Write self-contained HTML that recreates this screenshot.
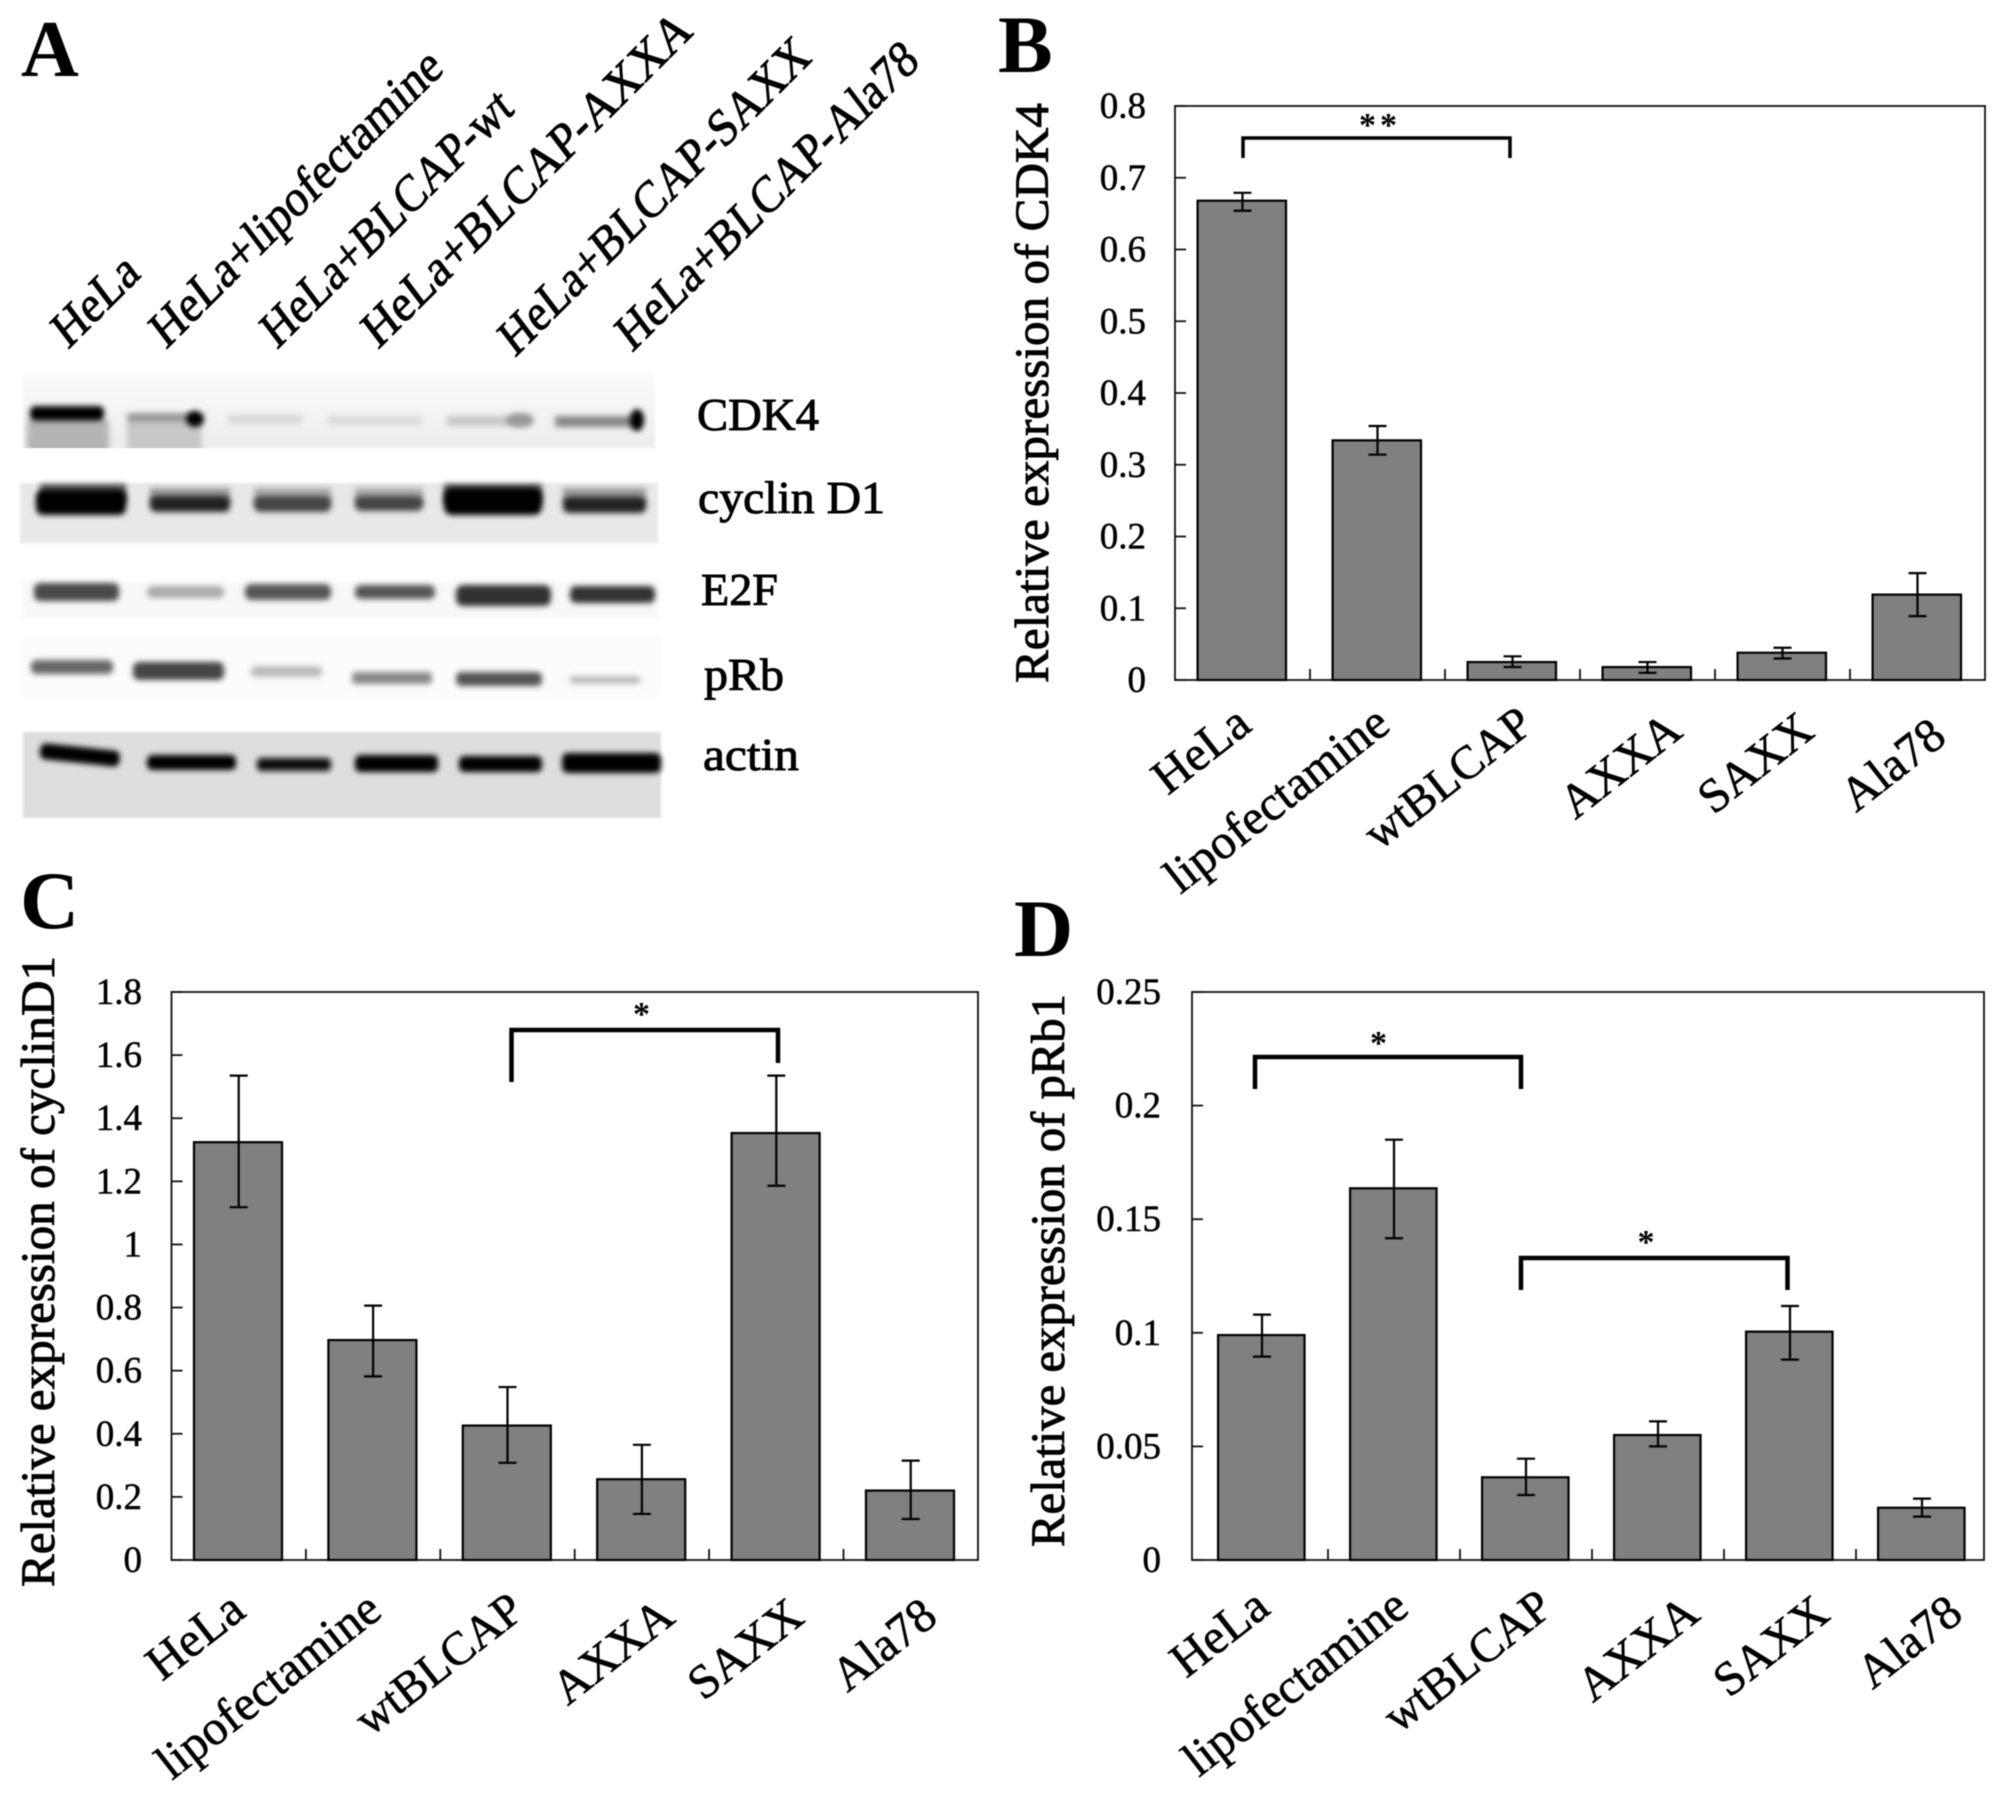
<!DOCTYPE html>
<html>
<head>
<meta charset="utf-8">
<style>
html,body{margin:0;padding:0;background:#fff;width:2008px;height:1798px;overflow:hidden}
svg{display:block;filter:blur(.5px)}
text{font-family:"Liberation Serif",serif;fill:#000}
</style>
</head>
<body>
<svg id="fig" width="2008" height="1798" viewBox="0 0 2008 1798" xmlns="http://www.w3.org/2000/svg">
<defs>
<filter id="b2" x="-30%" y="-150%" width="160%" height="400%"><feGaussianBlur stdDeviation="3"/></filter>
<filter id="b4" x="-30%" y="-150%" width="160%" height="400%"><feGaussianBlur stdDeviation="5"/></filter>
<filter id="b1" x="-5%" y="-5%" width="110%" height="110%"><feGaussianBlur stdDeviation="1"/></filter>
<linearGradient id="cdkbg" x1="0" y1="0" x2="0" y2="1"><stop offset="0" stop-color="#fbfbfb"/><stop offset="1" stop-color="#ededed"/></linearGradient>
<clipPath id="cdkclip"><rect x="23" y="372" width="632" height="76"/></clipPath>
</defs>
<rect width="2008" height="1798" fill="#fff"/>

<g>
<text x="21" y="76" font-size="80" font-weight="700">A</text>
<g font-size="46" stroke="#000" stroke-width=".8">
<text transform="translate(68,350) scale(1,1.15) rotate(-41)" textLength="98" lengthAdjust="spacingAndGlyphs">HeLa</text>
<text transform="translate(166,350) scale(1,1.15) rotate(-41)" textLength="370" lengthAdjust="spacingAndGlyphs">HeLa+lipofectamine</text>
<text transform="translate(277,350) scale(1,1.15) rotate(-41)" textLength="316" lengthAdjust="spacingAndGlyphs">HeLa+BLCAP-wt</text>
<text transform="translate(378,350) scale(1,1.15) rotate(-41)" textLength="419" lengthAdjust="spacingAndGlyphs">HeLa+BLCAP-AXXA</text>
<text transform="translate(515,358) scale(1,1.15) rotate(-41)" textLength="395" lengthAdjust="spacingAndGlyphs">HeLa+BLCAP-SAXX</text>
<text transform="translate(632,353) scale(1,1.15) rotate(-41)" textLength="383" lengthAdjust="spacingAndGlyphs">HeLa+BLCAP-Ala78</text>
</g>

<g>
<rect x="23" y="372" width="632" height="76" fill="url(#cdkbg)" filter="url(#b1)"/>
<g clip-path="url(#cdkclip)">
<rect x="27" y="420" width="82" height="36" fill="#b4b4b4" filter="url(#b2)"/>
<rect x="127" y="422" width="75" height="34" fill="#c8c8c8" filter="url(#b2)"/>
</g>
<rect x="30" y="406" width="74" height="15" rx="5" fill="#000" filter="url(#b2)"/>
<rect x="127" y="413" width="72" height="10" rx="3" fill="#999" filter="url(#b2)"/>
<ellipse cx="195" cy="419" rx="9" ry="8" fill="#000" filter="url(#b2)"/>
<rect x="228" y="415" width="74" height="9" fill="#d8d8d8" filter="url(#b2)"/>
<rect x="328" y="416" width="94" height="9" fill="#dadada" filter="url(#b2)"/>
<rect x="447" y="416" width="83" height="10" fill="#c8c8c8" filter="url(#b2)"/>
<ellipse cx="520" cy="420" rx="14" ry="7" fill="#999" filter="url(#b2)"/>
<rect x="555" y="416" width="85" height="11" fill="#888" filter="url(#b2)"/>
<ellipse cx="637" cy="420" rx="7" ry="11" fill="#000" filter="url(#b2)"/>
</g>

<g>
<rect x="20" y="483" width="638" height="60" fill="#e8e8e8" filter="url(#b1)"/>
<rect x="40" y="484" width="86" height="20" fill="#555" filter="url(#b2)"/>
<rect x="150" y="488" width="80" height="16" fill="#999" filter="url(#b2)"/>
<rect x="254" y="488" width="77" height="16" fill="#aaa" filter="url(#b2)"/>
<rect x="355" y="488" width="68" height="16" fill="#aaa" filter="url(#b2)"/>
<rect x="444" y="484" width="98" height="20" fill="#555" filter="url(#b2)"/>
<rect x="563" y="488" width="83" height="16" fill="#999" filter="url(#b2)"/>
<rect x="36" y="490" width="90" height="25" rx="7" fill="#000" filter="url(#b2)"/>
<rect x="150" y="496" width="80" height="16" rx="6" fill="#222" filter="url(#b2)"/>
<rect x="254" y="496" width="77" height="16" rx="6" fill="#444" filter="url(#b2)"/>
<rect x="355" y="496" width="68" height="15" rx="6" fill="#444" filter="url(#b2)"/>
<rect x="444" y="488" width="98" height="27" rx="8" fill="#000" filter="url(#b2)"/>
<rect x="563" y="497" width="83" height="16" rx="6" fill="#222" filter="url(#b2)"/>
</g>

<g>
<rect x="22" y="582" width="636" height="36" fill="#f8f8f8" filter="url(#b2)"/>
<rect x="34" y="583" width="85" height="18" rx="6" fill="#484848" filter="url(#b2)"/>
<rect x="147" y="586" width="77" height="12" rx="5" fill="#aaa" filter="url(#b2)"/>
<rect x="245" y="584" width="86" height="16" rx="6" fill="#555" filter="url(#b2)"/>
<rect x="355" y="585" width="80" height="14" rx="6" fill="#555" filter="url(#b2)"/>
<rect x="456" y="585" width="95" height="21" rx="7" fill="#333" filter="url(#b2)"/>
<rect x="570" y="586" width="85" height="17" rx="6" fill="#333" filter="url(#b2)"/>
</g>

<g>
<rect x="22" y="635" width="640" height="62" fill="#fcfcfc" filter="url(#b2)"/>
<rect x="31" y="660" width="82" height="14" rx="5" fill="#666" filter="url(#b2)"/>
<rect x="133" y="662" width="91" height="18" rx="6" fill="#444" filter="url(#b2)"/>
<rect x="251" y="666" width="71" height="11" rx="4" fill="#bbb" filter="url(#b2)"/>
<rect x="352" y="672" width="80" height="12" rx="4" fill="#888" filter="url(#b2)"/>
<rect x="456" y="672" width="86" height="14" rx="5" fill="#555" filter="url(#b2)"/>
<rect x="570" y="676" width="70" height="8" rx="3" fill="#bbb" filter="url(#b2)"/>
</g>

<g>
<rect x="23" y="732" width="638" height="86" fill="#dedede" filter="url(#b1)"/>
<rect x="40" y="747" width="80" height="16" rx="6" fill="#000" filter="url(#b2)" transform="rotate(6 80 754)"/>
<rect x="147" y="755" width="89" height="15" rx="5" fill="#000" filter="url(#b2)"/>
<rect x="257" y="758" width="74" height="13" rx="4" fill="#111" filter="url(#b2)"/>
<rect x="355" y="755" width="83" height="17" rx="5" fill="#000" filter="url(#b2)"/>
<rect x="459" y="756" width="83" height="16" rx="5" fill="#000" filter="url(#b2)"/>
<rect x="562" y="753" width="99" height="20" rx="6" fill="#000" filter="url(#b2)"/>
</g>

<g stroke="#000" stroke-width=".9" font-size="45">
<text x="697" y="430" textLength="122" lengthAdjust="spacingAndGlyphs">CDK4</text>
<text x="698" y="513" textLength="187" lengthAdjust="spacingAndGlyphs">cyclin D1</text>
<text x="701" y="605" textLength="77" lengthAdjust="spacingAndGlyphs">E2F</text>
<text x="704" y="690" textLength="80" lengthAdjust="spacingAndGlyphs">pRb</text>
<text x="703" y="770" textLength="96" lengthAdjust="spacingAndGlyphs">actin</text>
</g>
</g>

<text x="998" y="72" font-size="82" font-weight="700">B</text>
<text x="20" y="928" font-size="82" font-weight="700">C</text>
<text x="1014" y="956" font-size="82" font-weight="700">D</text>
</svg>

<script>
const categories = ["HeLa", "lipofectamine", "wtBLCAP", "AXXA", "SAXX", "Ala78"];

const bTicks = ["0", "0.1", "0.2", "0.3", "0.4", "0.5", "0.6", "0.7", "0.8"];
const bValues = [0.668, 0.334, 0.025, 0.018, 0.038, 0.119];
const bUpper = [0.679, 0.354, 0.033, 0.025, 0.045, 0.149];
const bLower = [0.654, 0.314, 0.018, 0.010, 0.030, 0.089];

const cTicks = ["0", "0.2", "0.4", "0.6", "0.8", "1", "1.2", "1.4", "1.6", "1.8"];
const cValues = [1.324, 0.697, 0.426, 0.256, 1.353, 0.220];
const cUpper = [1.535, 0.806, 0.548, 0.365, 1.535, 0.315];
const cLower = [1.118, 0.582, 0.308, 0.146, 1.186, 0.130];

const dTicks = ["0", "0.05", "0.1", "0.15", "0.2", "0.25"];
const dValues = [0.0990, 0.1636, 0.0364, 0.0550, 0.1005, 0.0230];
const dUpper = [0.1080, 0.1850, 0.0446, 0.0610, 0.1118, 0.0270];
const dLower = [0.0895, 0.1416, 0.0286, 0.0500, 0.0882, 0.0191];

const NS = "http://www.w3.org/2000/svg";
const fig = document.getElementById("fig");

function mk(parent, tag, attrs, txt) {
  const el = document.createElementNS(NS, tag);
  for (const k in attrs) el.setAttribute(k, attrs[k]);
  if (txt !== undefined) el.textContent = txt;
  parent.appendChild(el);
  return el;
}

function drawPanel(p, ticks, values, upper, lower) {
  const g = mk(fig, "g", {});
  
  
  const maxV = parseFloat(ticks[ticks.length - 1]);
  const y = v => p.bottom - (v / maxV) * (p.bottom - p.top);
  const cx = i => p.x0 + p.band * (i + 0.5);

  const frame = mk(g, "rect", { x: p.left, y: p.top, width: p.right - p.left, height: p.bottom - p.top, fill: "#fff", stroke: "#111", "stroke-width": 1.8 });
  
  

  ticks.forEach(t => {
    const v = parseFloat(t);
    const tm = mk(g, "line", { x1: p.left, x2: p.left + 11, y1: y(v), y2: y(v), stroke: "#111", "stroke-width": 1.8 });
    
    
    const tl = mk(g, "text", { x: p.labelRight, y: y(v) + 12, "text-anchor": "end", "font-size": 37, stroke: "#000", "stroke-width": 0.5 }, t);
    
    
  });

  for (let i = 1; i < categories.length; i++) {
    const tk = mk(g, "line", { x1: p.x0 + p.band * i, x2: p.x0 + p.band * i, y1: p.bottom, y2: p.bottom - 11, stroke: "#111", "stroke-width": 1.8 });
    
    
  }

  const barW = p.band * 0.655;
  values.forEach((v, i) => {
    const bar = mk(g, "rect", { x: cx(i) - barW / 2 - 0.7, y: y(v), width: barW, height: p.bottom - y(v), fill: "#808080", stroke: "#000", "stroke-width": 2.2 });
    
    
  });

  values.forEach((v, i) => {
    const eg = mk(g, "g", { stroke: "#000", "stroke-width": 2.2 });
    
    
    const ex = cx(i);
    mk(eg, "line", { x1: ex, x2: ex, y1: y(upper[i]), y2: y(lower[i]) });
    mk(eg, "line", { x1: ex - 9, x2: ex + 9, y1: y(upper[i]), y2: y(upper[i]) });
    mk(eg, "line", { x1: ex - 9, x2: ex + 9, y1: y(lower[i]), y2: y(lower[i]) });
  });

  categories.forEach((c, i) => {
    const lx = cx(i) + p.labelNudge[i];
    const ly = p.labelY + p.labelYNudge[i];
    const t = mk(g, "text", { transform: "translate(" + lx + "," + ly + ") rotate(-38)", "text-anchor": "end", "font-size": p.labelSize[i], stroke: "#000", "stroke-width": 0.6 }, c);
    
    
  });

  const yt = mk(g, "text", { transform: "translate(" + p.titleX + "," + p.titleBottom + ") rotate(-90)", "font-size": 48, stroke: "#000", "stroke-width": 0.9, textLength: p.titleLen, lengthAdjust: "spacingAndGlyphs" }, p.title);
  
  

  p.brackets.forEach(b => {
    const br = mk(g, "path", { d: "M" + b.x1 + " " + b.y1 + "V" + b.top + "H" + b.x2 + "V" + b.y2, fill: "none", stroke: "#000", "stroke-width": b.w });
    
    
    const st = mk(g, "text", { x: b.sx, y: b.sy, "text-anchor": "middle", "font-size": 34, "font-weight": 700, "letter-spacing": b.ls }, b.star);
    
    
  });
}

drawPanel({
  id: "cdk4", left: 1175, right: 1985, top: 106, bottom: 680, x0: 1175, band: 135, labelRight: 1146,
  labelY: 729, labelNudge: [11, 15, 23, 37, 34, 31], labelYNudge: [0, 0, 0, 6, 6, 12], labelSize: [49, 49, 47, 48, 48, 48],
  title: "Relative expression of CDK4", titleX: 1048, titleBottom: 683, titleLen: 580,
  brackets: [{ x1: 1243, x2: 1510, top: 138, y1: 158, y2: 158, w: 3.5, sx: 1380, sy: 136, star: "**", ls: 4 }]
}, bTicks, bValues, bUpper, bLower);

drawPanel({
  id: "cyclin-d1", left: 171.5, right: 978, top: 992, bottom: 1560, x0: 171.5, band: 134.4, labelRight: 142,
  labelY: 1615, labelNudge: [9, 11, 19, 35, 30, 29], labelYNudge: [0, 0, 0, 6, 6, 6], labelSize: [49, 49, 47, 48, 48, 48],
  title: "Relative expression of cyclinD1", titleX: 54, titleBottom: 1587, titleLen: 631,
  brackets: [{ x1: 511.5, x2: 778, top: 1030, y1: 1082, y2: 1063, w: 4.5, sx: 641.5, sy: 1025, star: "*", ls: 0 }]
}, cTicks, cValues, cUpper, cLower);

drawPanel({
  id: "prb1", left: 1192, right: 1984, top: 992, bottom: 1560, x0: 1196, band: 132, labelRight: 1161,
  labelY: 1612, labelNudge: [10, 17, 29, 44, 42, 43], labelYNudge: [0, 0, 0, 6, 6, 6], labelSize: [49, 49, 47, 48, 48, 48],
  title: "Relative expression of pRb1", titleX: 1064, titleBottom: 1547, titleLen: 553,
  brackets: [
    { x1: 1255, x2: 1521, top: 1057, y1: 1089, y2: 1089, w: 4.5, sx: 1378.5, sy: 1054, star: "*", ls: 0 },
    { x1: 1521, x2: 1787.5, top: 1258, y1: 1290, y2: 1290, w: 4.5, sx: 1646, sy: 1253, star: "*", ls: 0 }
  ]
}, dTicks, dValues, dUpper, dLower);
</script>
</body>
</html>
